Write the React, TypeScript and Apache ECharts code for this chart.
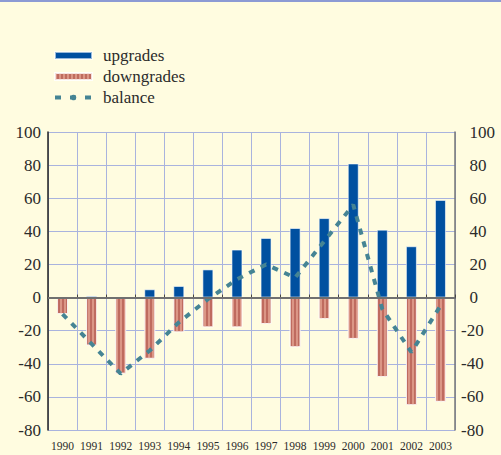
import React, { useEffect, useRef } from "react";
import * as echarts from "echarts";

const years = ["1990", "1991", "1992", "1993", "1994", "1995", "1996", "1997", "1998", "1999", "2000", "2001", "2002", "2003"];
const upgrades = [0, 1, 0, 5, 7, 17, 29, 36, 42, 48, 81, 41, 31, 59];
const downgrades = [-10, -29, -46, -37, -21, -18, -18, -16, -30, -13, -25, -48, -65, -63];
const balance = [-10, -28, -46, -32, -15, -1, 11, 20, 12, 34, 56, -7, -33, -5];

const FONT = "Liberation Serif";
const BG = "#FFFCE0";
const BLUE = "#0050A0";
const RED = "#BF6B5F";
const TEAL = "#458494";
const GRID = "#A9B3DE";

export default function App() {
  const ref = useRef<HTMLDivElement>(null);
  useEffect(() => {
    if (!ref.current) return;
    const chart = echarts.init(ref.current, null, { renderer: "svg" });
    chart.setOption({
      animation: false,
      backgroundColor: BG,
      textStyle: { fontFamily: FONT },
      graphic: [
        { type: "rect", left: 0, top: 0, shape: { width: 501, height: 2 }, style: { fill: "#8C9AD4" }, silent: true },
      ],
      legend: {
        orient: "vertical",
        left: 48,
        top: 42,
        itemWidth: 37,
        itemHeight: 7,
        itemGap: 4,
        textStyle: { fontSize: 17, fontFamily: FONT, color: "#2b2b2b", padding: [0, 0, 0, 6] },
        data: [
          { name: "upgrades", icon: "rect" },
          { name: "downgrades", icon: "rect" },
          { name: "balance", lineStyle: { type: [6, 9], width: 4 } },
        ],
      },
      grid: { left: 48, right: 46, top: 132, bottom: 25 },
      xAxis: {
        type: "category",
        data: years,
        boundaryGap: true,
        offset: 4,
        axisLine: { show: true, lineStyle: { color: "#444", width: 1.5 } },
        axisTick: { show: true, inside: true, length: 3, lineStyle: { color: "#444" } },
        axisLabel: { interval: 0, fontSize: 11.5, fontFamily: FONT, color: "#2b2b2b", margin: 6 },
        splitLine: { show: true, interval: 0, lineStyle: { color: GRID, width: 1 } },
      },
      yAxis: [
        {
          type: "value",
          min: -80,
          max: 100,
          interval: 20,
          position: "left",
          axisLine: { show: true, lineStyle: { color: "#222", width: 1.5 } },
          axisTick: { show: false },
          axisLabel: { fontSize: 17, fontFamily: FONT, color: "#2b2b2b", margin: 7 },
          splitLine: { show: true, lineStyle: { color: GRID, width: 1 } },
        },
        {
          type: "value",
          min: -80,
          max: 100,
          interval: 20,
          position: "right",
          axisLine: { show: true, lineStyle: { color: "#777", width: 1.5 } },
          axisTick: { show: false },
          splitLine: { show: false },
          axisLabel: {
            margin: 6,
            formatter: (v: number) => (v < 0 ? `{n|${v}}` : `{p|${v}}`),
            rich: {
              n: { fontSize: 17, fontFamily: FONT, color: "#2b2b2b" },
              p: { fontSize: 17, fontFamily: FONT, color: "#2b2b2b", padding: [0, 0, 0, 8.5] },
            },
          },
        },
      ],
      series: [
        {
          name: "zero",
          type: "line",
          data: [],
          z: 1,
          silent: true,
          markLine: {
            silent: true,
            symbol: "none",
            label: { show: false },
            lineStyle: { color: "#707070", width: 2, type: "solid" },
            data: [{ yAxis: 0 }],
          },
        },
        {
          name: "upgrades",
          type: "bar",
          data: upgrades,
          barWidth: 11,
          barGap: "-100%",
          z: 2,
          itemStyle: { color: BLUE, borderColor: "rgba(255,255,255,0.6)", borderWidth: 1 },
        },
        {
          name: "downgrades",
          type: "bar",
          data: downgrades,
          barWidth: 11,
          barGap: "-100%",
          z: 2,
          itemStyle: {
            color: RED,
            borderColor: "rgba(255,255,255,0.6)",
            borderWidth: 1,
            decal: {
              symbol: "rect",
              symbolSize: 1,
              dashArrayX: [1.5, 1.5],
              dashArrayY: [10, 0],
              rotation: 0,
              color: "rgba(232,168,152,0.7)",
            },
          },
        },
        {
          name: "balance",
          type: "line",
          data: balance,
          symbol: "none",
          z: 3,
          lineStyle: { color: TEAL, width: 4, type: [6, 7] },
          itemStyle: { color: TEAL },
        },
      ],
    });
    return () => chart.dispose();
  }, []);
  return <div ref={ref} style={{ position: "fixed", left: 0, top: 0, width: 501, height: 455 }} />;
}
